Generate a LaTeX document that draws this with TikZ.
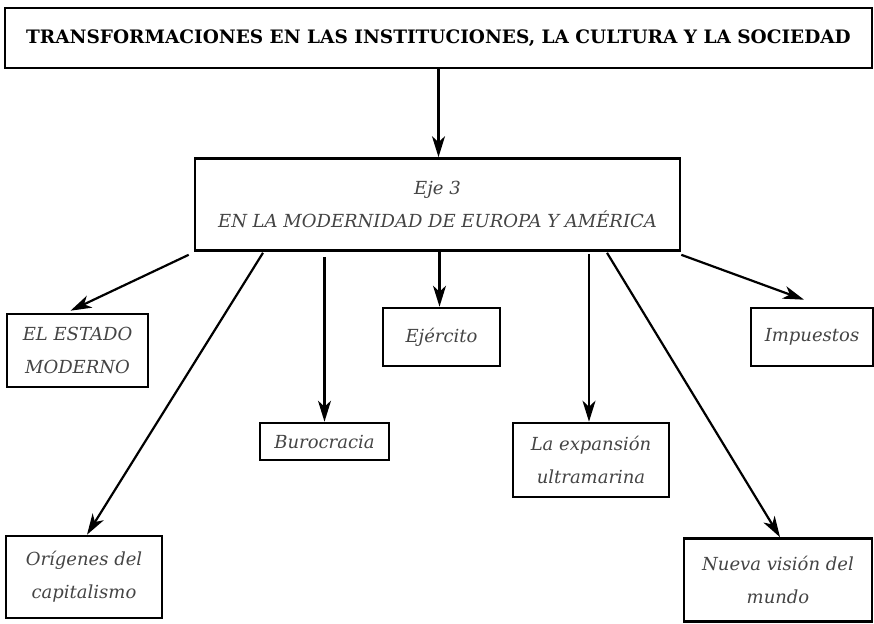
\documentclass[tikz,border=0pt]{standalone}
\usepackage{fontspec}
\setmainfont{DejaVu Serif}
\usepackage{xcolor}
\usetikzlibrary{arrows.meta,positioning,calc}
\definecolor{txtgray}{HTML}{444444}

\begin{document}
\begin{tikzpicture}[
  x=1pt, y=-1pt,
  box/.style={draw, line width=2.6pt, inner sep=0pt, align=center},
  topbox/.style={box, minimum width=867pt, minimum height=60pt,
    font=\fontsize{18.5}{20}\selectfont\bfseries},
  leafbox/.style={box, text=txtgray,
    font=\fontsize{18}{33}\selectfont\itshape},
  arrow/.style={-{Stealth[length=21pt, width=13pt, inset=6pt]}, line width=2.2pt}
]
\useasboundingbox (0,0) rectangle (874,623);

\node[topbox] (title) at (438.5,38)
  {TRANSFORMACIONES EN LAS INSTITUCIONES, LA CULTURA Y LA SOCIEDAD};
\node[leafbox, minimum width=485pt, minimum height=92pt] (eje) at (437.5,204.5)
  {Eje 3\\EN LA MODERNIDAD DE EUROPA Y AMÉRICA};
\node[leafbox, minimum width=141pt, minimum height=73pt] (estado) at (77.5,350.5)
  {EL ESTADO\\MODERNO};
\node[leafbox, minimum width=156pt, minimum height=82pt] (origenes) at (84,577)
  {Orígenes del\\capitalismo};
\node[leafbox, minimum width=129pt, minimum height=37pt] (buro) at (324.5,441.5)
  {Burocracia};
\node[leafbox, minimum width=117pt, minimum height=58pt] (ejercito) at (441.5,337)
  {Ejército};
\node[leafbox, minimum width=156pt, minimum height=74pt] (expansion) at (591,460)
  {La expansión\\ultramarina};
\node[leafbox, minimum width=188pt, minimum height=83pt] (nueva) at (778,580)
  {Nueva visión del\\mundo};
\node[leafbox, minimum width=122pt, minimum height=58pt] (impuestos) at (812,337)
  {Impuestos};

\draw[arrow] (title.south) -- (title.south |- eje.north);
\draw[arrow] ([xshift=-5pt,yshift=-3pt]eje.south west) -- ([xshift=-7pt,yshift=2pt]estado.north);
\draw[arrow] ([xshift=-174.5pt,yshift=-1pt]eje.south) -- ([xshift=3pt]origenes.north);
\draw[arrow] ([yshift=-5pt]buro.north |- eje.south) -- (buro.north);
\draw[arrow] ([xshift=-2pt,yshift=2pt]ejercito.north |- eje.south) -- ([xshift=-2pt]ejercito.north);
\draw[arrow] ([xshift=-2pt,yshift=-2pt]expansion.north |- eje.south) -- ([xshift=-2pt]expansion.north);
\draw[arrow] ([xshift=169.5pt,yshift=-1pt]eje.south) -- ([xshift=2pt]nueva.north);
\draw[arrow] ([yshift=-3pt]eje.south east) -- ([xshift=-8pt,yshift=7pt]impuestos.north);

\end{tikzpicture}
\end{document}
